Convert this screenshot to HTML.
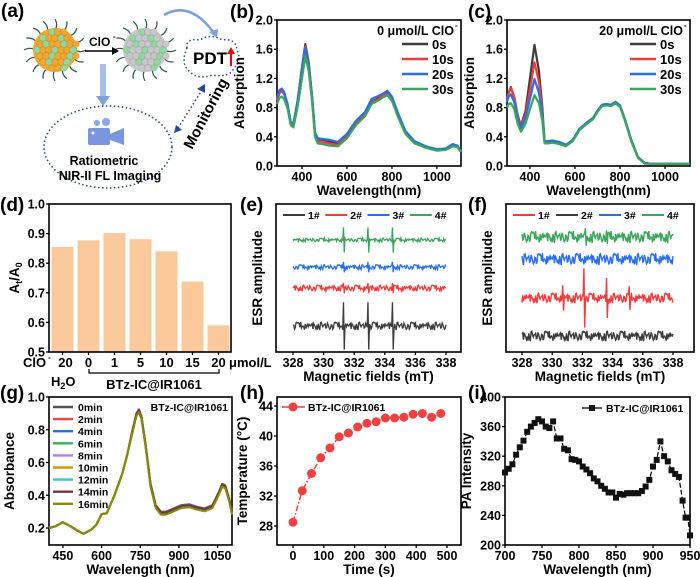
<!DOCTYPE html>
<html><head><meta charset="utf-8"><style>
html,body{margin:0;padding:0;background:#fff;}
svg{display:block;font-family:"Liberation Sans",Arial,sans-serif;font-weight:bold;}
</style></head><body>
<svg id="fig" width="700" height="577" viewBox="0 0 700 577" xmlns="http://www.w3.org/2000/svg">
<g id="pa"></g>
<g id="pb"></g>
<g id="pc"></g>
<g id="pd"></g>
<g id="pe"></g>
<g id="pf"></g>
<g id="pg"></g>
<g id="ph"></g>
<g id="pi"></g>
</svg>
<script>
// ---------- data ----------
const bWl = [289,300,310,320,335,350,362,380,400,415,430,445,458,470,490,520,560,600,640,680,710,740,760,780,800,830,860,900,950,1000,1040,1070,1090,1107];
const bBlack=[0.9,1.0,1.03,1.0,0.85,0.6,0.58,0.88,1.35,1.67,1.42,0.95,0.45,0.37,0.36,0.34,0.31,0.42,0.6,0.72,0.88,0.93,0.97,1.0,0.92,0.68,0.46,0.33,0.26,0.22,0.23,0.29,0.27,0.2];
const bRed  =[0.9,1.0,1.02,0.99,0.84,0.58,0.56,0.86,1.33,1.64,1.4,0.92,0.42,0.34,0.33,0.31,0.29,0.4,0.58,0.7,0.87,0.92,0.96,0.99,0.91,0.67,0.45,0.32,0.25,0.22,0.23,0.28,0.27,0.2];
const bBlue =[0.93,1.04,1.06,1.02,0.86,0.6,0.58,0.88,1.33,1.62,1.38,0.95,0.46,0.38,0.37,0.36,0.33,0.44,0.62,0.74,0.92,0.96,0.99,1.03,0.95,0.7,0.48,0.34,0.27,0.23,0.24,0.3,0.28,0.21];
const bGreen=[0.85,0.93,0.95,0.92,0.8,0.56,0.53,0.8,1.2,1.5,1.3,0.88,0.4,0.31,0.3,0.28,0.27,0.38,0.56,0.68,0.85,0.9,0.94,0.97,0.89,0.65,0.44,0.31,0.25,0.21,0.22,0.27,0.26,0.19];
const bLabels=["0s","10s","20s","30s"];

const cWl = [298,305,315,330,345,360,380,400,420,440,455,465,480,500,530,560,590,620,650,680,700,720,740,760,780,800,820,850,880,910,940,1000,1110];
const cBlack=[0.9,1.0,1.08,0.95,0.7,0.55,0.75,1.2,1.66,1.3,0.8,0.33,0.33,0.34,0.32,0.28,0.35,0.5,0.58,0.65,0.75,0.83,0.84,0.83,0.87,0.82,0.65,0.35,0.12,0.04,0.03,0.03,0.03];
const cRed  =[0.9,1.0,1.07,0.94,0.68,0.54,0.7,1.05,1.42,1.15,0.74,0.33,0.33,0.34,0.32,0.28,0.35,0.5,0.58,0.65,0.75,0.83,0.84,0.83,0.87,0.82,0.65,0.35,0.12,0.04,0.03,0.03,0.03];
const cBlue =[0.88,0.95,0.98,0.88,0.65,0.52,0.66,0.92,1.19,1.0,0.7,0.34,0.34,0.35,0.33,0.29,0.36,0.51,0.59,0.66,0.76,0.84,0.85,0.84,0.88,0.83,0.66,0.36,0.12,0.04,0.03,0.03,0.03];
const cGreen=[0.8,0.85,0.86,0.78,0.58,0.47,0.58,0.78,0.97,0.86,0.62,0.31,0.31,0.32,0.3,0.27,0.34,0.49,0.57,0.64,0.74,0.82,0.83,0.82,0.86,0.81,0.64,0.34,0.11,0.03,0.03,0.03,0.03];

const dCats=["20","0","1","5","10","15","20"];
const dVals=[0.855,0.877,0.902,0.881,0.84,0.738,0.59];

const esrNoise=[0.3,-0.5,0.8,-0.2,0.1,-0.9,0.6,0.2,-0.4,0.9,-0.7,0.0,0.5,-0.3,-0.8,0.7,0.2,-0.1,0.4,-0.6,1.0,-0.4,0.3,-0.2,-0.9,0.6,0.1,-0.5,0.8,-0.3,0.2,0.5,-0.7,0.4,-0.1,0.9,-0.8,0.3,-0.4,0.6,-0.2,0.0,0.7,-0.6,0.5,-1.0,0.2,0.4,-0.3,0.8];
const eLabels=["1#","2#","3#","4#"];
const eBase=[1.76,4.32,5.74,7.57];
const eNoiseAmp=[0.28,0.22,0.17,0.13];
const ePeakPos=[331.3,332.9,334.5];
const ePeakAmp=[1.6,0.35,0.35,0.85];
const fBase=[3.65,1.08,6.28,7.77];
const fNoiseAmp=[0.35,0.35,0.4,0.4];
const fRedPeakPos=[330.7,332.1,333.6,335.1];
const fRedPeakAmp=[0.85,2.0,1.35,0.8];
const fGreenPeakPos=[332.2,333.6];
const fGreenPeakAmp=[0.6,0.45];

const gWl=[396,420,450,480,510,530,560,580,600,620,650,680,700,720,735,745,755,770,790,810,830,850,880,910,940,970,1000,1030,1055,1068,1080,1095,1106];
const gBase=[0.2,0.21,0.235,0.21,0.18,0.165,0.19,0.22,0.285,0.29,0.4,0.53,0.65,0.8,0.9,0.925,0.88,0.72,0.47,0.34,0.3,0.3,0.32,0.34,0.345,0.33,0.32,0.34,0.42,0.47,0.46,0.38,0.3];
const gLabels=["0min","2min","4min","6min","8min","10min","12min","14min","16min"];
const gShift=[0,-0.002,-0.004,-0.006,-0.008,-0.01,-0.012,-0.005,-0.018];

const hTime=[0,30,60,90,120,150,180,210,240,270,300,330,360,390,420,450,480];
const hTemp=[28.5,32.7,35.0,37.1,38.4,39.9,40.4,41.2,41.7,41.9,42.4,42.4,42.5,42.9,43.0,42.5,43.0];

const iWl=[700,705,710,715,720,725,730,735,740,745,750,755,760,765,770,775,780,785,790,795,800,805,810,815,820,825,830,835,840,845,850,855,860,865,870,875,880,885,890,895,900,905,910,915,920,925,930,935,940,944,947,950];
const iVal=[298,303,309,322,332,341,353,360,365,370,367,360,358,367,344,344,330,328,316,315,313,306,302,297,290,286,280,276,271,271,264,269,268,270,270,270,270,273,279,288,306,315,340,320,313,301,296,292,260,237,237,213];

// ---------- helpers ----------
const NS="http://www.w3.org/2000/svg";
function el(parent,tag,attrs,text){const e=document.createElementNS(NS,tag);for(const k in attrs)e.setAttribute(k,attrs[k]);if(text!==undefined)e.textContent=text;parent.appendChild(e);return e;}
function lin(d0,d1,r0,r1){return v=>r0+(v-d0)*(r1-r0)/(d1-d0);}
function pathD(xs,ys,sx,sy){return xs.map((x,i)=>(i?"L":"M")+sx(x).toFixed(2)+","+sy(ys[i]).toFixed(2)).join("");}
function frame(g,X0,X1,Y0,Y1,sx,sy,xt,yt,xfmt,yfmt,xTitle,yTitle,yTitleX){
  const box=el(g,"rect",{x:X0,y:Y0,width:X1-X0,height:Y1-Y0,fill:"none",stroke:"#000","stroke-width":1.6});
  
  
  const xa=el(g,"g",{});
  
  
  xt.forEach(t=>{const x=sx(t);el(xa,"line",{x1:x,x2:x,y1:Y1,y2:Y1+3,stroke:"#000","stroke-width":1.3});
    if(xfmt!==null){const tx=el(xa,"text",{x:x,y:Y1+15,"font-size":12.5,"text-anchor":"middle"},xfmt?xfmt(t):t);
    
    }});
  const ya=el(g,"g",{});
  
  
  yt.forEach(t=>{const y=sy(t);el(ya,"line",{x1:X0-3,x2:X0,y1:y,y2:y,stroke:"#000","stroke-width":1.3});
    if(yfmt!==null){const ty=el(ya,"text",{x:X0-4,y:y+4.5,"font-size":12.5,"text-anchor":"end"},yfmt?yfmt(t):t);
    
    }});
  if(xTitle){const t=el(g,"text",{x:(X0+X1)/2,y:Y1+29,"font-size":13.5,"text-anchor":"middle"},xTitle);
    
    }
  if(yTitle){const t=el(g,"text",{x:0,y:0,"font-size":13.5,"text-anchor":"middle",transform:`translate(${yTitleX},${(Y0+Y1)/2}) rotate(-90)`},yTitle);
    
    }
}
function letter(g,x,y,s){const t=el(g,"text",{x:x,y:y,"font-size":19},s);
  
  }
const f1=v=>v.toFixed(1);

// ---------- panel (a) ----------
(function(){
  const g=document.getElementById("pa");
  letter(g,1,17,"(a)");
  function particle(cx,cy,c1,c2,name){
    const p=el(g,"g",{});
    
    
    for(let k=0;k<16;k++){const a=k*Math.PI/8;el(p,"path",{d:`M${cx+20*Math.cos(a)},${cy+20*Math.sin(a)} q${6*Math.cos(a+0.6)},${6*Math.sin(a+0.6)} ${11*Math.cos(a)},${11*Math.sin(a)}`,stroke:"#2f5a4a","stroke-width":1.2,fill:"none"});}
    el(p,"circle",{cx:cx,cy:cy,r:22,fill:c1});
    let n=0;
    for(let yy=-18;yy<=18;yy+=6)for(let xx=-18;xx<=18;xx+=6){if(xx*xx+yy*yy<=400){el(p,"circle",{cx:cx+xx+(yy%12?3:0),cy:cy+yy,r:3.3,fill:(n%3==0)?c2:c1,stroke:"rgba(0,0,0,0.2)","stroke-width":0.4});n++;}}
  }
  particle(55,50,"#f0a832","#8fd8a0","nanoparticle-before");
  particle(145,50,"#c8c8cc","#8fd8a0","nanoparticle-after");
  el(g,"line",{x1:85,y1:51,x2:114,y2:51,stroke:"#000","stroke-width":1.6});
  el(g,"path",{d:"M119,51 L112,47 L112,55 Z",fill:"#000"});
  const cl=el(g,"text",{x:89,y:46,"font-size":12},"ClO");
  
  
  el(g,"text",{x:113,y:39,"font-size":8},"-");
  el(g,"path",{d:"M164,15 Q190,0 214,33",stroke:"#7ea0dc","stroke-width":2.5,fill:"none"});
  el(g,"path",{d:"M217,38 L209,32 L218,29 Z",fill:"#7ea0dc"});
  el(g,"path",{d:"M187,48 Q185,38 200,40 Q210,33 222,40 Q236,38 237,50 Q242,60 234,68 Q230,78 212,75 Q198,80 190,72 Q180,64 187,48 Z",fill:"none",stroke:"#2c4a8a","stroke-width":1.5,"stroke-dasharray":"1.5 2.5"});
  const pdt=el(g,"text",{x:193,y:64,"font-size":17},"PDT");
  
  
  el(g,"line",{x1:231,y1:66,x2:231,y2:52,stroke:"#f00","stroke-width":2});
  el(g,"path",{d:"M231,47 L227,54 L235,54 Z",fill:"#f00"});
  el(g,"rect",{x:100,y:64,width:6,height:32,fill:"#a8bde8"});
  el(g,"path",{d:"M96,96 L110,96 L103,106 Z",fill:"#7ea0dc"});
  el(g,"ellipse",{cx:108,cy:147,rx:64,ry:41,fill:"none",stroke:"#2c4a8a","stroke-width":1.6,"stroke-dasharray":"1.5 2.5"});
  el(g,"circle",{cx:97,cy:123,r:3,fill:"#8aa5e8"});
  el(g,"circle",{cx:106,cy:122,r:4,fill:"#8aa5e8"});
  el(g,"rect",{x:88,y:128,width:22,height:17,rx:2,fill:"#7b96e0"});
  el(g,"path",{d:"M110,134 L124,128 L124,145 L110,140 Z",fill:"#7b96e0"});
  el(g,"circle",{cx:93,cy:133,r:1.5,fill:"#fff"});
  const r1=el(g,"text",{x:104,y:165,"font-size":12.5,"text-anchor":"middle"},"Ratiometric");
  
  
  el(g,"text",{x:110,y:180,"font-size":12.5,"text-anchor":"middle"},"NIR-II FL Imaging");
  el(g,"line",{x1:178,y1:128,x2:202,y2:90,stroke:"#2c4a8a","stroke-width":1.6,"stroke-dasharray":"1.5 2.5"});
  el(g,"path",{d:"M205,84 L197,89 L205,93 Z",fill:"#2c4a8a"});
  el(g,"path",{d:"M174,133 L182,130 L176,125 Z",fill:"#2c4a8a"});
  const mo=el(g,"text",{x:0,y:0,"font-size":15,transform:"translate(192,150) rotate(-62)"},"Monitoring");
  
  
})();

// ---------- spectra panels (b),(c) ----------
const specColors=["#3c3c3c","#f03c3c","#2a6fe6","#3aa65a"];
function specPanel(id,X0,X1,wl,series,dom,title,lx,ltitleX,letterX){
  const g=document.getElementById(id);
  const Y0=20,Y1=166;
  const sx=lin(dom[0],dom[1],X0,X1), sy=lin(0,2,Y1,Y0);
  letter(g,letterX,18,id==="pb"?"(b)":"(c)");
  frame(g,X0,X1,Y0,Y1,sx,sy,[400,600,800,1000],[0,0.4,0.8,1.2,1.6,2.0],null,f1,"Wavelength(nm)","Absorption",X0-33);
  series.forEach((s,i)=>{const p=el(g,"path",{d:pathD(wl,s,sx,sy),fill:"none",stroke:specColors[i],"stroke-width":2.2,"stroke-linejoin":"round"});
    
    });
  const t=el(g,"text",{x:ltitleX,y:35,"font-size":12.5,"text-anchor":"end"},title);
  
  
  el(g,"text",{x:ltitleX+1,y:28,"font-size":8},"-");
  bLabels.forEach((l,i)=>{const y=44+i*15;
    const le=el(g,"g",{});
    
    
    el(le,"line",{x1:lx,x2:lx+26,y1:y,y2:y,stroke:specColors[i],"stroke-width":2.4});
    el(le,"text",{x:lx+30,y:y+5,"font-size":13},l);});
  return {sx,sy};
}
specPanel("pb",277,461,bWl,[bBlack,bRed,bBlue,bGreen],[289,1107],"0 μmol/L ClO",402,454,230);
specPanel("pc",507,690,cWl,[cBlack,cRed,cBlue,cGreen],[298,1111],"20 μmol/L ClO",630,683,468);
["pb","pc"].forEach((id,k)=>{const g=document.getElementById(id);const sx=k?lin(298,1111,507,690):lin(289,1107,277,461);
  [400,600,800,1000].forEach(t=>{const tx=el(g,"text",{x:sx(t),y:181,"font-size":12.5,"text-anchor":"middle"},t);
  
  });});

// ---------- panel (d) ----------
(function(){
  const g=document.getElementById("pd");
  const X0=49,X1=231,Y0=204,Y1=352;
  const sy=lin(0.5,1.0,Y1,Y0);
  const bx=i=>62.5+i*26;
  letter(g,0,211,"(d)");
  dVals.forEach((v,i)=>{const r=el(g,"rect",{x:bx(i)-11,y:sy(v),width:22,height:Y1-sy(v),fill:"#f9c89b"});
    
    });
  frame(g,X0,X1,Y0,Y1,v=>v,sy,[],[0.5,0.6,0.7,0.8,0.9,1.0],null,f1,null,null,0);
  const yt=el(g,"text",{x:0,y:0,"font-size":13.5,"text-anchor":"middle",transform:`translate(19,278) rotate(-90)`});
  
  
  yt.innerHTML='A<tspan font-size="9" dy="3">t</tspan><tspan dy="-3">/A</tspan><tspan font-size="9" dy="3">0</tspan>';
  dCats.forEach((c,i)=>{el(g,"line",{x1:bx(i),x2:bx(i),y1:Y1,y2:Y1+3,stroke:"#000","stroke-width":1.3});
    const t=el(g,"text",{x:bx(i)+(i===0?3:0),y:367,"font-size":13,"text-anchor":"middle"},c);
    
    });
  el(g,"text",{x:23,y:367,"font-size":13},"ClO");
  el(g,"text",{x:48,y:360,"font-size":8},"-");
  el(g,"text",{x:229,y:367,"font-size":13},"μmol/L");
  const h=el(g,"text",{x:51,y:386,"font-size":13},"H");
  h.innerHTML='H<tspan font-size="9" dy="3">2</tspan><tspan dy="-3">O</tspan>';
  el(g,"path",{d:"M89,369 L89,373 L219,373 L219,369",fill:"none",stroke:"#000","stroke-width":1.2});
  const bt=el(g,"text",{x:154,y:389,"font-size":13,"text-anchor":"middle"},"BTz-IC@IR1061");
  
  
})();

// ---------- ESR panels ----------
function esrTrace(base,amp,noiseOff,peaks,amps,sx,sy){
  const xs=[],ys=[];
  for(let i=0;i<=200;i++){
    const x=328+i*0.05; let v=base+esrNoise[(i*7+noiseOff)%esrNoise.length]*amp;
    peaks.forEach((p,k)=>{const d=x-p; if(d>-0.04&&d<=0.01)v=base+amps[k]; else if(d>0.01&&d<=0.06)v=base-amps[k];});
    xs.push(x);ys.push(v);
  }
  return pathD(xs,ys,sx,sy);
}
function esrPanel(id,X0,X1,x328,x338,lab,cols,order,legX){
  const g=document.getElementById(id);
  const Y0=204,Y1=352;
  const sx=lin(328,338,x328,x338), sy=lin(0,10,Y1,Y0);
  letter(g,lab==="(e)"?240:468,211,lab);
  frame(g,X0,X1,Y0,Y1,sx,sy,[328,330,332,334,336,338],[],undefined,null,"Magnetic fields (mT)","ESR amplitude",X0-14);
  order.forEach((lbl,i)=>{const x=legX+i*(X1-X0-16)/4;
    const le=el(g,"g",{});
    
    
    el(le,"line",{x1:x,x2:x+22,y1:215,y2:215,stroke:cols[i],"stroke-width":2});
    el(le,"text",{x:x+25,y:219,"font-size":10.5},lbl);});
  return {g,sx,sy};
}
(function(){
  const cols=["#3c3c3c","#f03c3c","#2a6fe6","#3aa65a"];
  const P=esrPanel("pe",276,461,293,446,"(e)",cols,eLabels,283);
  eBase.forEach((b,i)=>{const p=el(P.g,"path",{d:esrTrace(b,eNoiseAmp[i],i*11,ePeakPos,[ePeakAmp[i],ePeakAmp[i],ePeakAmp[i]],P.sx,P.sy),fill:"none",stroke:cols[i],"stroke-width":1.3});
    
    });
})();
(function(){
  const cols=["#f03c3c","#3c3c3c","#2a6fe6","#3aa65a"];
  const P=esrPanel("pf",506,694,522,673,"(f)",cols,eLabels,513);
  fBase.forEach((b,i)=>{let pk=[],am=[];
    if(i===0){pk=fRedPeakPos;am=fRedPeakAmp;} if(i===3){pk=fGreenPeakPos;am=fGreenPeakAmp;}
    const p=el(P.g,"path",{d:esrTrace(b,fNoiseAmp[i],i*13+5,pk,am,P.sx,P.sy),fill:"none",stroke:cols[i],"stroke-width":1.4});
    
    });
})();

// ---------- panel (g) ----------
(function(){
  const g=document.getElementById("pg");
  const X0=49,X1=232,Y0=397,Y1=545;
  const sx=lin(396,1106,X0,X1), sy=lin(0.2,1.0,528,397);
  const cols=["#555555","#e8474e","#2a6fe0","#34b05a","#b57be6","#d99a00","#2fcfcf","#6b3a3a","#8a8a00"];
  letter(g,0,399,"(g)");
  frame(g,X0,X1,Y0,Y1,sx,sy,[450,600,750,900,1050],[0.2,0.4,0.6,0.8,1.0],undefined,f1,"Wavelength (nm)","Absorbance",X0-35);
  gLabels.forEach((l,i)=>{const ys=gBase.map((v,k)=>gWl[k]>700?v+gShift[i]:v);
    const p=el(g,"path",{d:pathD(gWl,ys,sx,sy),fill:"none",stroke:cols[i],"stroke-width":2,"stroke-linejoin":"round"});
    
    
    const y=407+i*12.1;
    const le=el(g,"g",{});
    
    
    el(le,"line",{x1:53,x2:73,y1:y,y2:y,stroke:cols[i],"stroke-width":2.4});
    el(le,"text",{x:78,y:y+4,"font-size":10.5},l);});
  const t=el(g,"text",{x:228,y:411,"font-size":10.5,"text-anchor":"end"},"BTz-IC@IR1061");
  
  
})();

// ---------- panel (h) ----------
(function(){
  const g=document.getElementById("ph");
  const X0=277,X1=461,Y0=397,Y1=545;
  const sx=lin(0,500,293,447), sy=lin(28,44,526,406);
  letter(g,240,399,"(h)");
  frame(g,X0,X1,Y0,Y1,sx,sy,[0,100,200,300,400,500],[28,32,36,40,44],undefined,undefined,"Time (s)","Temperature (°C)",X0-30);
  const l=el(g,"path",{d:pathD(hTime,hTemp,sx,sy),fill:"none",stroke:"#f04040","stroke-width":1.5,"stroke-dasharray":"6 2 1.5 2"});
  
  
  hTime.forEach((t,i)=>{const c=el(g,"circle",{cx:sx(t),cy:sy(hTemp[i]),r:4.5,fill:"#f04040"});
    
    });
  el(g,"line",{x1:282,x2:305,y1:407,y2:407,stroke:"#f04040","stroke-width":1.5});
  el(g,"circle",{cx:293,cy:407,r:4.5,fill:"#f04040"});
  const t=el(g,"text",{x:308,y:411,"font-size":10.5},"BTz-IC@IR1061");
  
  
})();

// ---------- panel (i) ----------
(function(){
  const g=document.getElementById("pi");
  const X0=505,X1=690,Y0=397,Y1=545;
  const sx=lin(700,950,X0,X1), sy=lin(200,400,Y1,Y0);
  letter(g,468,399,"(i)");
  frame(g,X0,X1,Y0,Y1,sx,sy,[700,750,800,850,900,950],[200,240,280,320,360,400],undefined,undefined,"Wavelength (nm)","PA Intensity",X0-34);
  const l=el(g,"path",{d:pathD(iWl,iVal,sx,sy),fill:"none",stroke:"#000","stroke-width":1.2,"stroke-dasharray":"5 2"});
  
  
  iWl.forEach((w,i)=>{const r=el(g,"rect",{x:sx(w)-3,y:sy(iVal[i])-3,width:6,height:6,fill:"#111"});
    
    });
  el(g,"line",{x1:582,x2:602,y1:408,y2:408,stroke:"#000","stroke-width":1.3});
  el(g,"rect",{x:589,y:405,width:6,height:6,fill:"#111"});
  const t=el(g,"text",{x:606,y:412,"font-size":10.5},"BTz-IC@IR1061");
  
  
})();
</script>
</body></html>
